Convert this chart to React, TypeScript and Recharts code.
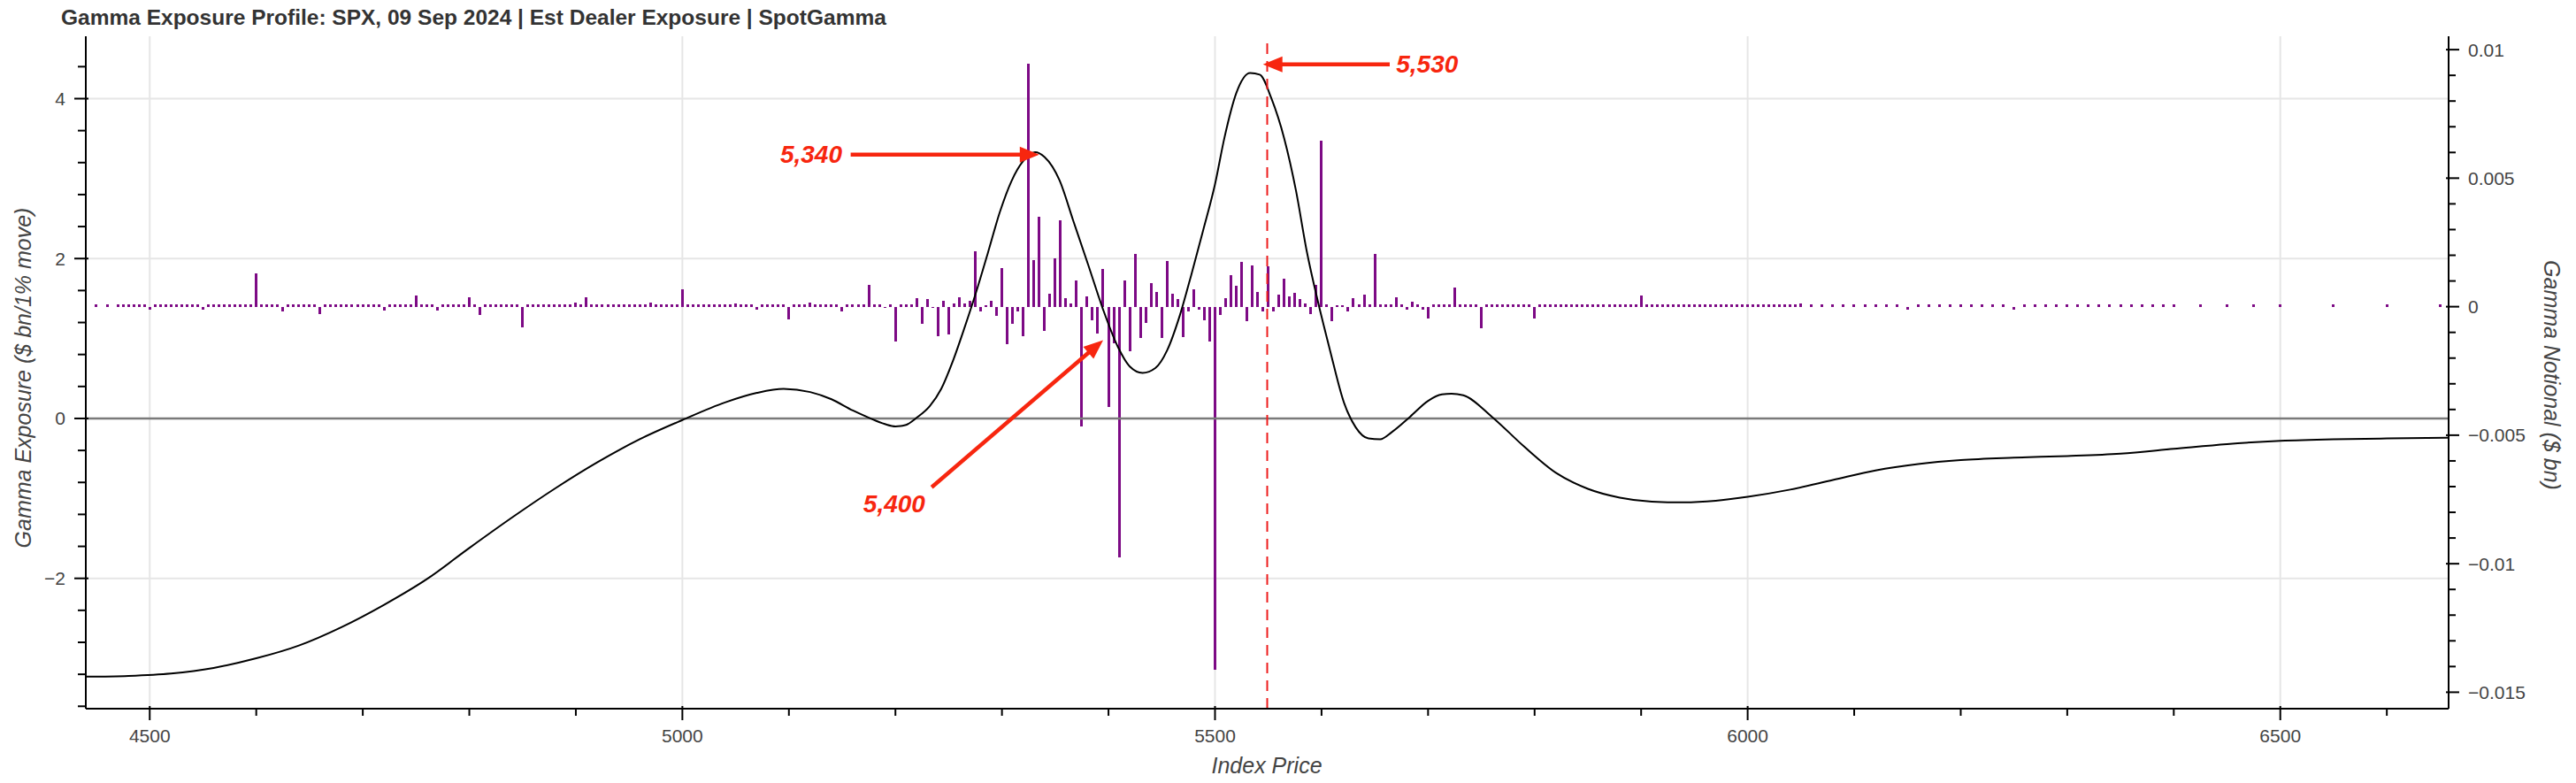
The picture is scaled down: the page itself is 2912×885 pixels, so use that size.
import React from 'react'
import {
  ComposedChart,
  Bar,
  Line,
  XAxis,
  YAxis,
  CartesianGrid,
  ReferenceLine,
  ReferenceDot,
} from 'recharts'

const TITLE = 'Gamma Exposure Profile: SPX, 09 Sep 2024 | Est Dealer Exposure | SpotGamma'
const FONT = '"Liberation Sans", Arial, Helvetica, sans-serif'
const BAR_PURPLE = '#7d0a85'
const ARROW_RED = '#f7260f'
const SPOT_RED = '#ee1c1c'
const TEXT = '#444'

// gamma notional per strike, in units of 1e-4 $bn
const FAR_LEFT_STRIKES = [4450, 4460]
const FAR_LEFT_NOTIONAL_E4 = [1, 1]

// $5 strikes from 4470 up to 6045, ten strikes per row
const CORE_FIRST_STRIKE = 4470
const CORE_STEP = 5
const CORE_NOTIONAL_E4 = [
  1, 1, 1, 1, 1, 1, -1, 1, 1, 1, // 4470
  1, 1, 1, 1, 1, 1, -1, 1, 1, 1, // 4520
  1, 1, 1, 1, 1, 1, 13, 1, 1, 1, // 4570
  1, -2, 1, 1, 1, 1, 1, 1, -3, 1, // 4620
  1, 1, 1, 1, 1, 1, 1, 1, 1, 1, // 4670
  -1.5, 1, 1, 1, 1, 1, 4.5, 1, 1, 1, // 4720
  -1.5, 1, 1, 1, 1, 1, 3.8, 1, -3.3, 1, // 4770
  1, 1, 1, 1, 1, 1, -8, 1, 1, 1, // 4820
  1, 1, 1, 1, 1, 1, 1.5, 1, 3.8, 1, // 4870
  1, 1, 1, 1, 1, 1, 1, 1, 1, 1, // 4920
  1.7, 1, 1, 1, 1, 1, 6.8, 1, 1, 1, // 4970
  1, 1, 1, 1, 1, 1, 1.4, 1, 1, 1, // 5020
  -1, 1, 1, 1, 1, 1, -5, 1, 1, 1, // 5070
  1.5, 1, 1, 1, 1, 1, -1.7, 1, 1, 1, // 5120
  1, 8.4, 1, 1, -0.6, 1, -13.7, 1, 1, 1, // 5170
  3.2, -6.6, 2.9, -0.6, -11.5, 2.4, -10.7, 1.1, 3.7, 1.1, // 5220
  2.3, 21.4, -2, 0.6, 2.2, -3.6, 14.9, -14.5, -6.8, -2, // 5270
  -11.5, 94.5, 18.1, 35, -9.5, 4.9, 18.9, 33.6, 3.4, 1.1, // 5320
  10.3, -46.7, 4, -5.2, -10.5, 14.8, -39, -14.3, -97.6, 10.2, // 5370
  -17.2, 20.5, -12.3, -6.3, 9, 5.7, -12.3, 17.8, 4.9, 2.9, // 5420
  -11.7, -2, 6.6, -1, -5.2, -13.7, -141.2, -3.1, 3.4, 12.3, // 5470
  8, 17.4, -5.6, 16, 5.7, -1.7, 15.8, -2, 4.6, 10.9, // 5520
  4, 5.4, 2.9, 1.4, -2.9, 8.6, 64.5, 1, -5.7, 0.6, // 5570
  0.6, -2, 3.4, 1, 4.6, 1, 20.4, 1, 1, 1, // 5620
  3.7, 1, -1, 2, 1, -1, -4.7, 1, 1, 1, // 5670
  1, 7.4, 1, 1, 1, 1, -8.5, 1, 1, 1, // 5720
  1, 1, 1, 1, 1, 1, -4.5, 1, 1, 1, // 5770
  1, 1, 1, 1, 1, 1, 1, 1, 1, 1, // 5820
  1, 1, 1, 1, 1, 1, 4.5, 1, 1, 1, // 5870
  1, 1, 1, 1, 1, 1, 1, 1, 1, 1, // 5920
  1, 1, 1, 1, 1, 1, 1, 1, 1, 1, // 5970
  1, 1, 1, 1, 1, 1, // 6020
]

const WING_STRIKES = [
  6050, 6060, 6070, 6080, 6090, 6100, 6110, 6120, 6130, 6140, 6150, 6160,
  6170, 6180, 6190, 6200, 6210, 6220, 6230, 6240, 6250, 6260, 6270, 6280,
  6290, 6300, 6310, 6320, 6330, 6340, 6350, 6360, 6370, 6380, 6390, 6400,
  6425, 6450, 6475, 6500, 6550, 6600, 6650,
]
const WING_NOTIONAL_E4 = [
  1.3, 1, 1, 1, 1, 1, 1, 1, 1, 1, -1, 1,
  1, 1, 1, 1, 1, 1, 1, 1, -1, 1, 1, 1,
  1, 1, 1, 1, 1, 1, 1, 1, 1, 1, 1, 1,
  1, 1, 1, 1, 1, 1, 1,
]

// gamma exposure profile ($ bn / 1% move) vs index price
const CURVE_PRICE = [
  4440, 4480, 4520, 4560, 4600, 4640, 4680, 4720, 4760, 4800, 4840, 4880, 4920,
  4960, 5000, 5040, 5070, 5095, 5120, 5140, 5160, 5175, 5190, 5200, 5210, 5220,
  5232, 5243, 5254, 5265, 5276, 5287, 5298, 5309, 5320, 5331, 5340, 5354, 5367,
  5381, 5395, 5409, 5420, 5432, 5444, 5455, 5467, 5478, 5489, 5500, 5509, 5520,
  5533, 5542, 5553, 5565, 5576, 5586, 5597, 5608, 5621, 5632, 5644, 5655, 5666,
  5683, 5700, 5713, 5722, 5733, 5760, 5790, 5820, 5850, 5880, 5910, 5940, 5970,
  6000, 6040, 6080, 6120, 6160, 6200, 6250, 6300, 6350, 6400, 6450, 6500, 6550,
  6600, 6658,
]
const CURVE_GEX = [
  -3.23, -3.22, -3.19, -3.12, -3.0, -2.84, -2.61, -2.33, -2.01, -1.62, -1.24, -0.88, -0.55,
  -0.26, -0.02, 0.2, 0.32, 0.37, 0.33, 0.24, 0.1, 0.01, -0.07, -0.1, -0.08, 0.01,
  0.15, 0.37, 0.72, 1.14, 1.59, 2.08, 2.58, 2.97, 3.22, 3.33, 3.27, 2.98, 2.47,
  1.92, 1.36, 0.89, 0.65, 0.57, 0.63, 0.85, 1.29, 1.81, 2.36, 2.93, 3.52, 4.07,
  4.32, 4.3, 4.0, 3.5, 2.85, 2.1, 1.44, 0.85, 0.2, -0.11, -0.25, -0.26, -0.17,
  0.02, 0.22, 0.3, 0.31, 0.29, 0.02, -0.35, -0.68, -0.88, -0.99, -1.04, -1.05, -1.03,
  -0.98, -0.89, -0.77, -0.65, -0.57, -0.52, -0.49, -0.47, -0.44, -0.38, -0.32, -0.28, -0.26,
  -0.25, -0.24,
]

const SPOT = 5549

// axes
const X_DOMAIN = [4440, 6658]
const X_TICKS = [
  4500, 4600, 4700, 4800, 4900, 5000, 5100, 5200, 5300, 5400, 5500,
  5600, 5700, 5800, 5900, 6000, 6100, 6200, 6300, 6400, 6500, 6600,
]
const X_MAJOR = [4500, 5000, 5500, 6000, 6500]

const LEFT_DOMAIN = [-3.63, 4.78]
const LEFT_TICKS = [
  -3.6, -3.2, -2.8, -2.4, -2, -1.6, -1.2, -0.8, -0.4, 0, 0.4, 0.8, 1.2, 1.6, 2,
  2.4, 2.8, 3.2, 3.6, 4, 4.4,
]
const LEFT_MAJOR = [-2, 0, 2, 4]

const RIGHT_DOMAIN = [-0.01564, 0.01052]
const RIGHT_TICKS = [
  -0.015, -0.014, -0.013, -0.012, -0.011, -0.01, -0.009, -0.008, -0.007, -0.006,
  -0.005, -0.004, -0.003, -0.002, -0.001, 0, 0.001, 0.002, 0.003, 0.004, 0.005,
  0.006, 0.007, 0.008, 0.009, 0.01,
]
const RIGHT_MAJOR = [-0.015, -0.01, -0.005, 0, 0.005, 0.01]

// annotations: text, arrow tail, arrow tip, text anchor point
const CALLOUTS = [
  { text: '5,340', from: [5158, 3.3], to: [5335, 3.3], at: [5150, 3.3], anchor: 'end' },
  { text: '5,530', from: [5664, 4.43], to: [5545, 4.43], at: [5670, 4.43], anchor: 'start' },
  { text: '5,400', from: [5234, -0.86], to: [5395, 0.98], at: [5228, -1.07], anchor: 'end' },
]

type Row = { strike: number; notional?: number; gex?: number }

function buildRows(): Row[] {
  const rows = new Map<number, Row>()
  const put = (strike: number, key: 'notional' | 'gex', value: number) => {
    const r = rows.get(strike) ?? { strike }
    r[key] = value
    rows.set(strike, r)
  }
  FAR_LEFT_STRIKES.forEach((s, i) => put(s, 'notional', FAR_LEFT_NOTIONAL_E4[i] / 1e4))
  CORE_NOTIONAL_E4.forEach((v, i) => put(CORE_FIRST_STRIKE + i * CORE_STEP, 'notional', v / 1e4))
  WING_STRIKES.forEach((s, i) => put(s, 'notional', WING_NOTIONAL_E4[i] / 1e4))
  CURVE_PRICE.forEach((p, i) => put(p, 'gex', CURVE_GEX[i]))
  return [...rows.values()].sort((a, b) => a.strike - b.strike)
}

const data = buildRows()

const fmtSigned = (v: number) => (v === 0 ? '0' : `${v < 0 ? '\u2212' : ''}${Math.abs(v)}`)

const tickText = { fill: TEXT, fontSize: 21, fontFamily: FONT }

// solid, pixel-snapped stems (negative values come in with a negative height)
const Stem = (props: any) => {
  const { x, y, width, height } = props
  if (x == null || y == null || !height) return null
  const top = Math.min(y, y + height)
  return (
    <rect
      x={Math.round(x + width / 2 - 1.5)}
      y={top}
      width={3}
      height={Math.abs(height)}
      fill={BAR_PURPLE}
      shapeRendering="crispEdges"
    />
  )
}

const XTick = (props: any) => {
  const { x, y, payload } = props
  const major = X_MAJOR.includes(payload.value)
  return (
    <g>
      <line x1={x} x2={x} y1={major ? y - 3 : y} y2={y + (major ? 13 : 8)} stroke="#000" strokeWidth={2} />
      {major && (
        <text x={x} y={y + 30} textAnchor="middle" dominantBaseline="central" {...tickText}>
          {payload.value}
        </text>
      )}
    </g>
  )
}

const LeftTick = (props: any) => {
  const { x, y, payload } = props
  const major = LEFT_MAJOR.some((m) => Math.abs(m - payload.value) < 1e-9)
  return (
    <g>
      <line x1={major ? x + 3 : x} x2={x - (major ? 13 : 9)} y1={y} y2={y} stroke="#000" strokeWidth={2} />
      {major && (
        <text x={x - 23} y={y} textAnchor="end" dominantBaseline="central" {...tickText}>
          {fmtSigned(payload.value)}
        </text>
      )}
    </g>
  )
}

const RightTick = (props: any) => {
  const { x, y, payload } = props
  const major = RIGHT_MAJOR.some((m) => Math.abs(m - payload.value) < 1e-9)
  return (
    <g>
      <line x1={major ? x - 3 : x} x2={x + (major ? 12 : 8)} y1={y} y2={y} stroke="#000" strokeWidth={2} />
      {major && (
        <text x={x + 22} y={y} textAnchor="start" dominantBaseline="central" {...tickText}>
          {fmtSigned(payload.value)}
        </text>
      )}
    </g>
  )
}

const Arrow = (props: any) => {
  const { x1, y1, x2, y2 } = props
  const dx = x2 - x1
  const dy = y2 - y1
  const len = Math.hypot(dx, dy) || 1
  const ux = dx / len
  const uy = dy / len
  const headLen = 22
  const headHalf = 9
  const bx = x2 - ux * headLen
  const by = y2 - uy * headLen
  return (
    <g>
      <line x1={x1} y1={y1} x2={bx + ux * 2} y2={by + uy * 2} stroke={ARROW_RED} strokeWidth={4.5} />
      <polygon
        points={`${x2},${y2} ${bx - uy * headHalf},${by + ux * headHalf} ${bx + uy * headHalf},${by - ux * headHalf}`}
        fill={ARROW_RED}
      />
    </g>
  )
}

const calloutLabel = (text: string, anchor: string) => (props: any) => (
  <text
    x={props.cx}
    y={props.cy}
    textAnchor={anchor}
    dominantBaseline="central"
    fill={ARROW_RED}
    fontSize={28}
    fontWeight="bold"
    fontStyle="italic"
    fontFamily={FONT}
  >
    {text}
  </text>
)

const axisLabel = {
  position: 'absolute' as const,
  color: TEXT,
  fontSize: 25,
  fontStyle: 'italic',
  fontFamily: FONT,
  whiteSpace: 'nowrap' as const,
}

export default function App() {
  return (
    <div style={{ position: 'relative', width: 2912, height: 885, background: '#fff', fontFamily: FONT }}>
      <style>{'body{margin:0}'}</style>
      <ComposedChart
        width={2912}
        height={885}
        data={data}
        margin={{ top: 41, right: 0, bottom: 0, left: 0 }}
      >
        <CartesianGrid
          yAxisId="left"
          stroke="#e6e6e6"
          strokeWidth={2}
          horizontalValues={LEFT_MAJOR}
          verticalValues={X_MAJOR}
        />
        <XAxis
          dataKey="strike"
          type="number"
          domain={X_DOMAIN}
          allowDataOverflow
          ticks={X_TICKS}
          interval={0}
          height={84}
          tickSize={0}
          tickMargin={0}
          tick={<XTick />}
          axisLine={{ stroke: '#000', strokeWidth: 2 }}
        />
        <YAxis
          yAxisId="left"
          type="number"
          domain={LEFT_DOMAIN}
          allowDataOverflow
          ticks={LEFT_TICKS}
          interval={0}
          width={97}
          tickSize={0}
          tickMargin={0}
          tick={<LeftTick />}
          axisLine={{ stroke: '#000', strokeWidth: 2 }}
        />
        <YAxis
          yAxisId="right"
          orientation="right"
          type="number"
          domain={RIGHT_DOMAIN}
          allowDataOverflow
          ticks={RIGHT_TICKS}
          interval={0}
          width={144}
          tickSize={0}
          tickMargin={0}
          tick={<RightTick />}
          axisLine={{ stroke: '#000', strokeWidth: 2 }}
        />
        <ReferenceLine yAxisId="left" y={0} stroke="#7a7a7a" strokeWidth={2.5} />
        <Bar
          yAxisId="right"
          dataKey="notional"
          fill={BAR_PURPLE}
          barSize={3}
          shape={Stem}
          isAnimationActive={false}
        />
        <Line
          yAxisId="left"
          dataKey="gex"
          type="monotone"
          stroke="#000"
          strokeWidth={2}
          dot={false}
          activeDot={false}
          connectNulls
          isAnimationActive={false}
        />
        <ReferenceLine
          yAxisId="left"
          x={SPOT}
          stroke={SPOT_RED}
          strokeWidth={2}
          strokeDasharray="12 8"
        />
        {CALLOUTS.map((c) => (
          <ReferenceLine
            key={`arrow-${c.text}`}
            yAxisId="left"
            segment={[
              { x: c.from[0], y: c.from[1] },
              { x: c.to[0], y: c.to[1] },
            ]}
            shape={Arrow}
            ifOverflow="visible"
          />
        ))}
        {CALLOUTS.map((c) => (
          <ReferenceDot
            key={`text-${c.text}`}
            yAxisId="left"
            x={c.at[0]}
            y={c.at[1]}
            r={0}
            shape={calloutLabel(c.text, c.anchor)}
            ifOverflow="visible"
          />
        ))}
      </ComposedChart>

      <div
        style={{
          position: 'absolute',
          left: 69,
          top: 6,
          fontSize: 24.5,
          fontWeight: 'bold',
          color: '#333',
          whiteSpace: 'nowrap',
        }}
      >
        {TITLE}
      </div>
      <div style={{ ...axisLabel, left: 1432, top: 865, transform: 'translate(-50%, -50%)' }}>Index Price</div>
      <div style={{ ...axisLabel, left: 26, top: 427, transform: 'translate(-50%, -50%) rotate(-90deg)' }}>
        Gamma Exposure ($ bn/1% move)
      </div>
      <div style={{ ...axisLabel, left: 2884, top: 424, transform: 'translate(-50%, -50%) rotate(90deg)' }}>
        Gamma Notional ($ bn)
      </div>
    </div>
  )
}
